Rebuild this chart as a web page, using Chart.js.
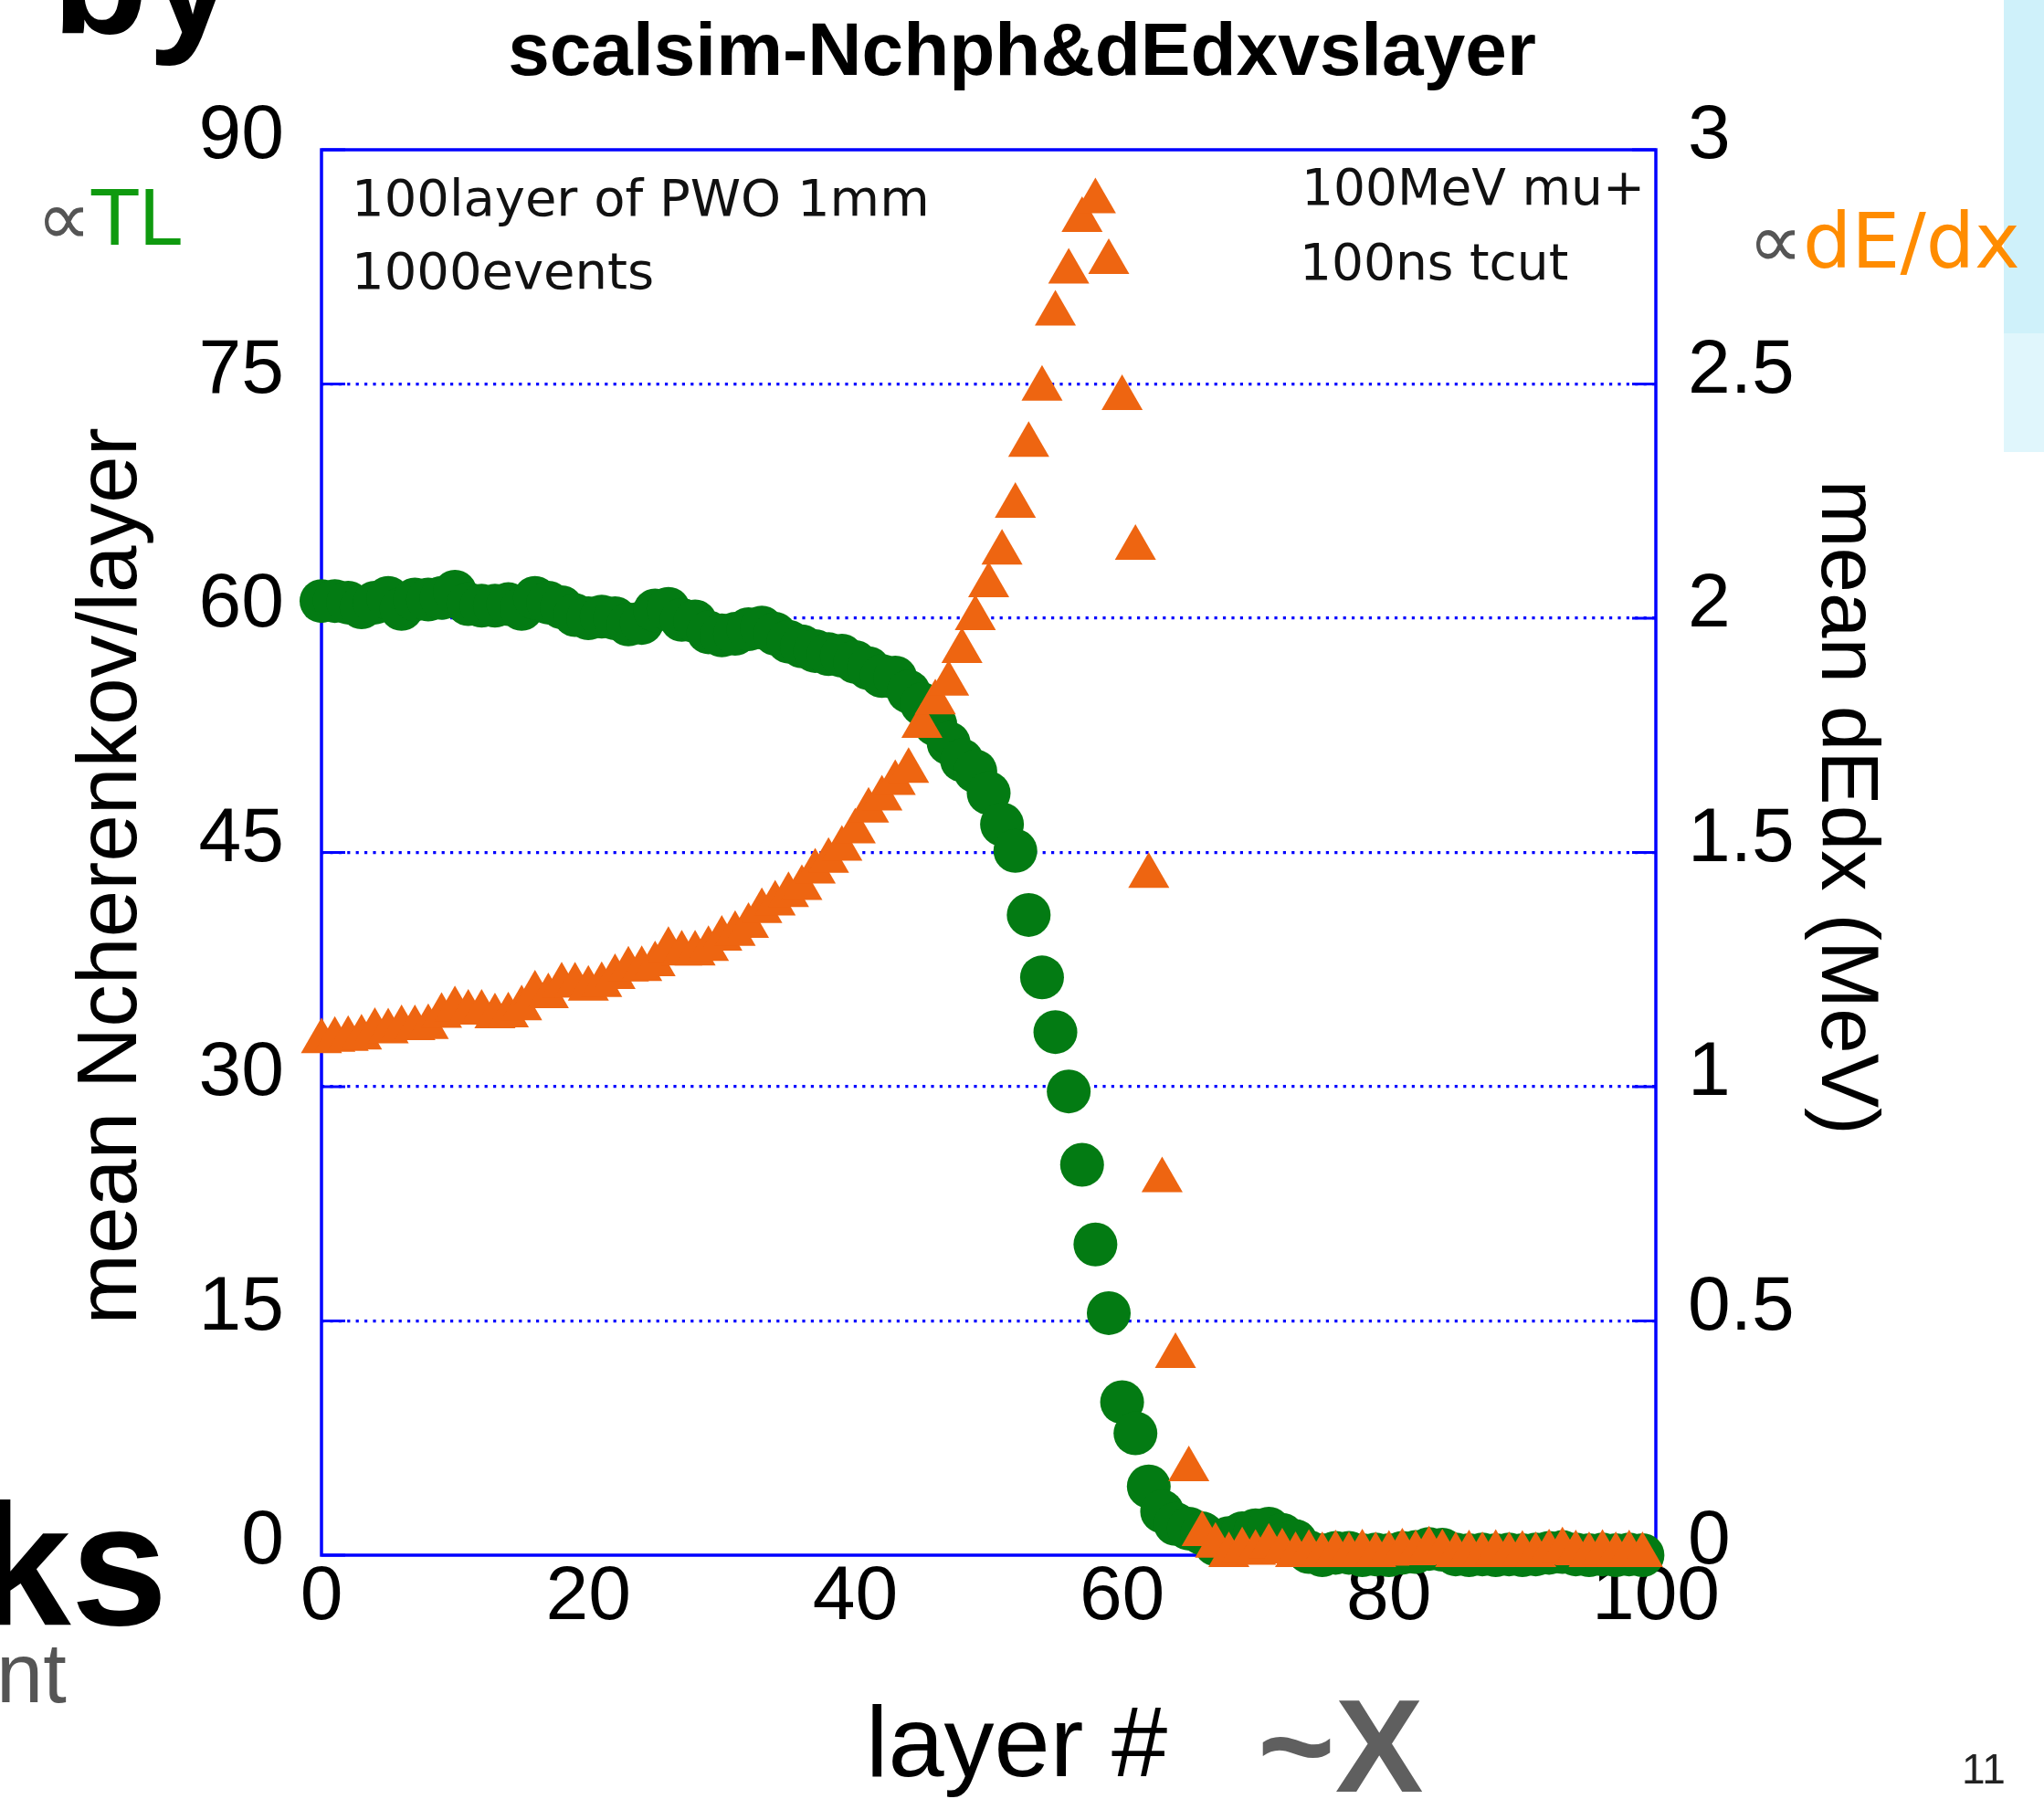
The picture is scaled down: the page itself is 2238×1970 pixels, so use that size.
<!DOCTYPE html>
<html>
<head>
<meta charset="utf-8">
<script src="https://cdn.jsdelivr.net/npm/chart.js@4.4.1/dist/chart.umd.min.js"></script>
<style>
  body { margin: 0; background: #fff; }
  #wrap { position: relative; width: 2238px; height: 1970px; overflow: hidden; background: #fff; }
  #grafica { position: absolute; left: 0; top: 0; }
  .nota { position: absolute; white-space: pre; line-height: 1; }
  .dv { font-family: "DejaVu Sans", sans-serif; }
  .lb { font-family: "Liberation Sans", Arial, sans-serif; }
</style>
</head>
<body>
<div id="wrap">
  <div class="nota" style="left:2194px;top:0;width:44px;height:365px;background:#cff1fa"></div>
  <div class="nota" style="left:2194px;top:365px;width:44px;height:130px;background:#e0f6fc"></div>

  <canvas id="grafica" width="2238" height="1970"></canvas>

  <!-- textos dentro del marco -->
  <div class="nota dv" style="left:385px;top:189px;font-size:56px;color:#111">100layer of PWO 1mm</div>
  <div class="nota dv" style="left:385px;top:269px;font-size:56px;color:#111">1000events</div>
  <div class="nota dv" style="right:437px;top:178px;font-size:55px;color:#111">100MeV mu+</div>
  <div class="nota dv" style="left:1423px;top:260px;font-size:55px;color:#111">100ns tcut</div>

  <!-- textos de la diapositiva -->
  <div class="nota lb" style="left:57px;top:-110px;font-size:172px;font-weight:bold;color:#000">by</div>
  <div class="nota lb" style="left:-28px;top:1618px;font-size:190px;font-weight:bold;color:#000">ks</div>
  <div class="nota lb" style="left:-4px;top:1786px;font-size:92px;color:#555">nt</div>
  <div class="nota dv" style="left:40px;top:197px;font-size:84px"><span style="color:#555">∝</span><span style="color:#0f9a0f">TL</span></div>
  <div class="nota dv" style="left:1914px;top:222px;font-size:84px"><span style="color:#555">∝</span><span style="color:#ff8c00">dE/dx</span></div>
  <div class="nota lb" style="left:1377px;top:1840px;font-size:145px;font-weight:bold;color:#5f5f5f">~X</div>
  <div class="nota lb" style="left:2148px;top:1914px;font-size:46px;color:#222">11</div>
</div>

<script>
const grafica = document.getElementById("grafica");

// numero de capa
const layers = [
  0, 1, 2, 3, 4, 5, 6, 7, 8, 9,
  10, 11, 12, 13, 14, 15, 16, 17, 18, 19,
  20, 21, 22, 23, 24, 25, 26, 27, 28, 29,
  30, 31, 32, 33, 34, 35, 36, 37, 38, 39,
  40, 41, 42, 43, 44, 45, 46, 47, 48, 49,
  50, 51, 52, 53, 54, 55, 56, 57, 58, 59,
  60, 61, 62, 63, 64, 65, 66, 67, 68, 69,
  70, 71, 72, 73, 74, 75, 76, 77, 78, 79,
  80, 81, 82, 83, 84, 85, 86, 87, 88, 89,
  90, 91, 92, 93, 94, 95, 96, 97, 98, 99,
];

// mean Ncherenkov/layer (eje izquierdo)
const nCherenkov = [
  61.1, 61.1, 61.0, 60.7, 61.0, 61.3, 60.6, 61.2, 61.2, 61.3,
  61.7, 60.9, 60.8, 60.8, 60.9, 60.6, 61.3, 61.0, 60.7, 60.2,
  60.0, 60.1, 60.0, 59.6, 59.7, 60.5, 60.6, 59.9, 59.8, 59.1,
  58.9, 59.0, 59.3, 59.4, 59.0, 58.5, 58.2, 57.9, 57.7, 57.6,
  57.2, 56.8, 56.3, 56.2, 55.3, 54.5, 53.2, 52.0, 50.9, 50.2,
  48.8, 46.8, 45.1, 41.0, 37.0, 33.5, 29.7, 25.0, 19.9, 15.5,
  9.8, 7.8, 4.4, 2.8, 2.0, 1.7, 1.4, 0.7, 1.1, 1.4,
  1.6, 1.7, 1.3, 0.9, 0.2, 0.0, 0.15, 0.15, 0.0, 0.05,
  0.0, 0.15, 0.2, 0.4, 0.35, 0.05, 0.0, 0.05, 0.0, 0.05,
  0.0, 0.05, 0.15, 0.2, 0.05, 0.0, 0.05, 0.0, 0.05, 0.0,
];

// mean dEdx en MeV (eje derecho)
const dEdx = [
  1.097, 1.100, 1.102, 1.105, 1.119, 1.118, 1.125, 1.125, 1.127, 1.151,
  1.165, 1.158, 1.158, 1.150, 1.152, 1.167, 1.199, 1.193, 1.216, 1.216,
  1.209, 1.217, 1.234, 1.250, 1.251, 1.261, 1.292, 1.284, 1.284, 1.294,
  1.316, 1.326, 1.343, 1.375, 1.391, 1.409, 1.424, 1.459, 1.482, 1.508,
  1.545, 1.589, 1.615, 1.648, 1.674, 1.770, 1.820, 1.860, 1.930, 2.000,
  2.070, 2.140, 2.240, 2.370, 2.490, 2.650, 2.740, 2.850, 2.890, 2.760,
  2.470, 2.150, 1.450, 0.800, 0.425, 0.183, 0.045, 0.020, 0.000, 0.010,
  0.005, 0.018, 0.008, 0.000, 0.005, 0.000, 0.004, 0.000, 0.006, 0.000,
  0.003, 0.008, 0.004, 0.012, 0.006, 0.000, 0.004, 0.000, 0.005, 0.000,
  0.003, 0.000, 0.006, 0.010, 0.004, 0.000, 0.005, 0.000, 0.004, 0.000,
];

const ticksIzq = [0, 15, 30, 45, 60, 75, 90];
const ticksDer = [0, 0.5, 1, 1.5, 2, 2.5, 3];
const ticksX = [0, 20, 40, 60, 80, 100];

const azul = "#0000ff";
const verde = "#037b13";
const naranja = "#ee6511";

const puntosVerdes = layers.map((l, i) => ({ x: l, y: nCherenkov[i] }));
const puntosNaranjas = layers.map((l, i) => ({ x: l, y: dEdx[i] }));

// marco azul y marcas hacia dentro
const marco = {
  id: "marco",
  beforeDatasetsDraw(chart) {
    const { ctx, chartArea: a, scales } = chart;
    ctx.save();
    ctx.strokeStyle = azul;
    ctx.lineWidth = 3.5;
    ctx.strokeRect(a.left, a.top, a.right - a.left, a.bottom - a.top);
    ctx.lineWidth = 3;
    ctx.beginPath();
    ticksIzq.forEach((v) => {
      const py = scales.y.getPixelForValue(v);
      ctx.moveTo(a.left, py);
      ctx.lineTo(a.left + 26, py);
    });
    ticksDer.forEach((v) => {
      const py = scales.y1.getPixelForValue(v);
      ctx.moveTo(a.right, py);
      ctx.lineTo(a.right - 26, py);
    });
    ctx.stroke();
    ctx.restore();
  },
};

const fuenteTicks = { family: "Liberation Sans", size: 84 };

new Chart(grafica, {
  type: "scatter",
  data: {
    datasets: [
      {
        label: "mean dEdx (MeV)",
        data: puntosNaranjas,
        yAxisID: "y1",
        pointStyle: "triangle",
        pointRadius: 26,
        pointBackgroundColor: naranja,
        pointBorderWidth: 0,
        borderWidth: 0,
        order: 0,
        clip: false,
      },
      {
        label: "mean Ncherenkov/layer",
        data: puntosVerdes,
        yAxisID: "y",
        pointStyle: "circle",
        pointRadius: 24,
        pointBackgroundColor: verde,
        pointBorderWidth: 0,
        borderWidth: 0,
        order: 1,
        clip: false,
      },
    ],
  },
  options: {
    responsive: false,
    animation: false,
    devicePixelRatio: 1,
    layout: { padding: 0 },
    scales: {
      x: {
        type: "linear",
        position: "bottom",
        min: 0,
        max: 100,
        afterFit: (s) => { s.height = 267; },
        afterBuildTicks: (s) => { s.ticks = ticksX.map((v) => ({ value: v })); },
        grid: { display: false, drawTicks: false },
        border: { display: false },
        ticks: { font: fuenteTicks, color: "#000", padding: -4, maxRotation: 0, callback: (v) => String(v) },
        title: {
          display: true,
          text: "  layer #", // espacios para correrlo a la derecha
          color: "#000",
          font: { family: "Liberation Sans", size: 110 },
          padding: { top: 0, bottom: -11 },
        },
      },
      y: {
        type: "linear",
        position: "left",
        min: 0,
        max: 90,
        afterFit: (s) => { s.width = 352; },
        afterBuildTicks: (s) => { s.ticks = ticksIzq.map((v) => ({ value: v })); },
        grid: {
          drawTicks: false,
          lineWidth: 3.2,
          color: (c) => (c.tick && (c.tick.value === 0 || c.tick.value === 90) ? "rgba(0,0,0,0)" : azul),
        },
        border: { display: false, dash: [3.2, 6.2] },
        ticks: { font: fuenteTicks, color: "#000", padding: 41, labelOffset: -14, callback: (v) => String(v) },
        title: {
          display: true,
          text: "mean Ncherenkov/layer  ",
          color: "#000",
          font: { family: "Liberation Sans", size: 93 },
          padding: { top: 68, bottom: 0 },
        },
      },
      y1: {
        type: "linear",
        position: "right",
        min: 0,
        max: 3,
        afterFit: (s) => { s.width = 425; },
        afterBuildTicks: (s) => { s.ticks = ticksDer.map((v) => ({ value: v })); },
        grid: { drawOnChartArea: false, drawTicks: false },
        border: { display: false },
        ticks: { font: fuenteTicks, color: "#000", padding: 35, labelOffset: -14, callback: (v) => String(v) },
        title: {
          display: true,
          text: "mean dEdx (MeV)    ", // espacios para subirlo
          color: "#000",
          font: { family: "Liberation Sans", size: 89 },
          padding: { top: 165, bottom: 0 },
        },
      },
    },
    plugins: {
      legend: { display: false },
      tooltip: { enabled: false },
      title: {
        display: true,
        text: "scalsim-Nchph&dEdxvslayer",
        color: "#000",
        font: { family: "Liberation Sans", size: 82, weight: "bold" },
        padding: { top: 10, bottom: 55.6 },
      },
    },
  },
  plugins: [marco],
});
</script>
</body>
</html>
